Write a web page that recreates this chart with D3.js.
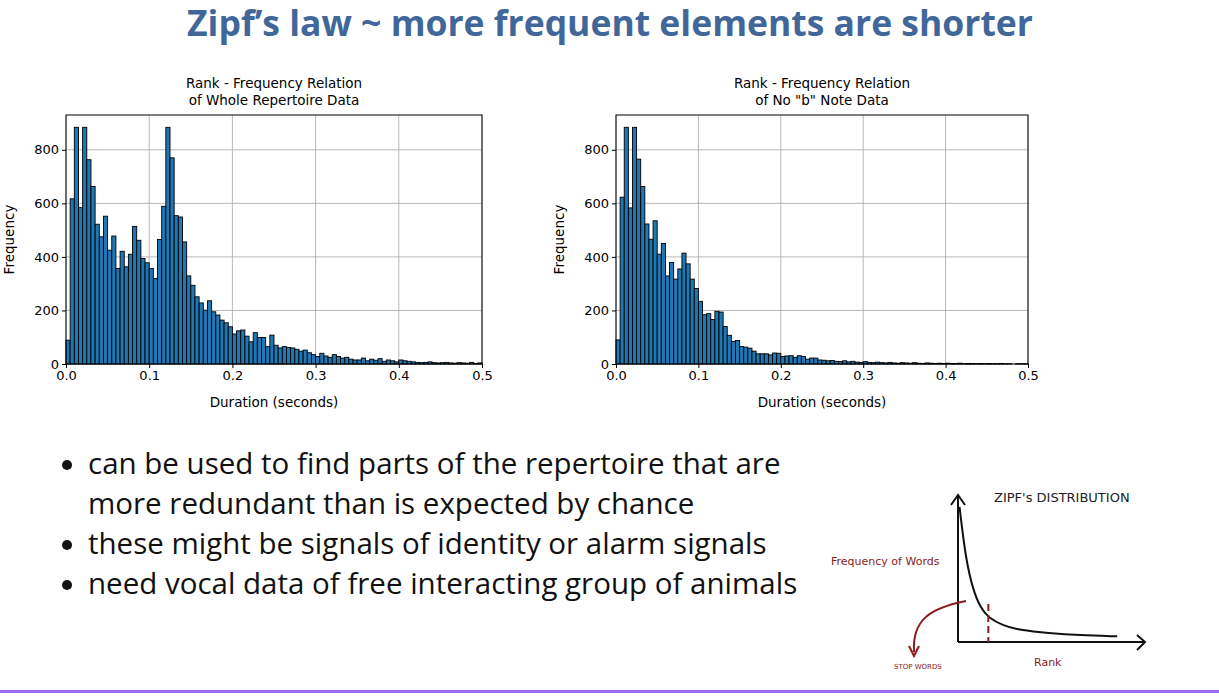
<!DOCTYPE html>
<html><head><meta charset="utf-8">
<script src="https://cdn.jsdelivr.net/npm/d3@7"></script>
<style>
body{margin:0;background:#fff;font-family:"DejaVu Sans",sans-serif;}
svg text{font-family:"DejaVu Sans",sans-serif;}
</style></head>
<body><svg id="vis" width="1219" height="698"></svg>
<script>
// histogram counts, 100 bins of 0.005 s from 0 to 0.5
var wholeCounts = [89,617,884,584,884,763,663,522,475,552,425,478,357,421,363,410,514,462,394,378,
  357,319,465,589,884,770,554,549,456,329,294,251,228,201,236,195,183,164,154,139,
  112,124,127,104,83,117,99,99,65,108,
  70,60,65,62,60,55,48,52,42,35,28,40,30,25,35,28,22,25,18,15,
  15,22,12,18,14,20,10,15,12,8,15,12,10,8,6,5,6,8,5,4,5,6,4,3,5,4,3,6,2,4];
var noBCounts = [90,623,884,583,884,765,663,523,466,535,410,450,329,379,317,355,414,374,317,282,
  234,184,188,166,197,194,140,107,84,88,65,63,59,48,38,38,38,34,41,40,
  28,30,31,25,31,28,18,22,22,15,
  14,12,13,10,9,12,8,10,7,6,9,6,5,7,5,4,6,4,3,5,4,3,5,3,2,4,3,2,3,2,3,2,2,3,1,2,2,1,2,1,2,1,1,2,1,1,0,1,1,1];
var xTicks = [0.0, 0.1, 0.2, 0.3, 0.4, 0.5];
var yTicks = [0, 200, 400, 600, 800];
var bullets = [
  ["can be used to find parts of the repertoire that are", "more redundant than is expected by chance"],
  ["these might be signals of identity or alarm signals"],
  ["need vocal data of free interacting group of animals"]
];
// sketch curve (rank, frequency) in sketch units
var zipfCurve = [[0.1,10],[0.5,6.2],[1,3.8],[1.5,2.5],[2,1.8],[3,1.2],[4,0.9],[6,0.65],[8,0.5],[10.5,0.42]];

var svg = d3.select("#vis");
svg.append("text").attr("x", 610).attr("y", 36).attr("text-anchor", "middle")
  .attr("font-size", 35.5).attr("font-weight", "bold").attr("fill", "#41679a")
  .style("font-family", "'Open Sans',sans-serif")
  .text("Zipf\u2019s law ~ more frequent elements are shorter");

function hist(left, right, counts, t1, t2){
  var top = 115, bottom = 364;
  var x = d3.scaleLinear().domain([0, 0.5]).range([left, right]);
  var y = d3.scaleLinear().domain([0, 930]).range([bottom, top]);
  var g = svg.append("g");
  g.selectAll(".gx").data(xTicks).join("line").attr("x1", d => x(d)).attr("x2", d => x(d))
    .attr("y1", top).attr("y2", bottom).attr("stroke", "#b0b0b0").attr("stroke-width", 0.9);
  g.selectAll(".gy").data(yTicks).join("line").attr("x1", left).attr("x2", right)
    .attr("y1", d => y(d)).attr("y2", d => y(d)).attr("stroke", "#b0b0b0").attr("stroke-width", 0.9);
  var bw = 0.005;
  g.selectAll(".bar").data(counts).join("rect")
    .attr("x", (d, i) => x(i * bw)).attr("width", x(bw) - x(0))
    .attr("y", d => y(d)).attr("height", d => bottom - y(d))
    .attr("fill", "#1f77b4").attr("stroke", "#000").attr("stroke-width", 0.9);
  g.append("rect").attr("x", left).attr("y", top).attr("width", right - left).attr("height", bottom - top)
    .attr("fill", "none").attr("stroke", "#000").attr("stroke-width", 1);
  g.append("g").attr("transform", "translate(0," + bottom + ")")
    .call(d3.axisBottom(x).tickValues(xTicks).tickFormat(d3.format(".1f")).tickSize(4))
    .call(a => a.select(".domain").remove())
    .selectAll("text").attr("font-size", 13).attr("fill", "#000");
  g.append("g").attr("transform", "translate(" + left + ",0)")
    .call(d3.axisLeft(y).tickValues(yTicks).tickSize(4))
    .call(a => a.select(".domain").remove())
    .selectAll("text").attr("font-size", 13).attr("fill", "#000");
  g.append("text").attr("x", (left + right) / 2).attr("y", 407).attr("text-anchor", "middle")
    .attr("font-size", 13.5).text("Duration (seconds)");
  g.append("text").attr("transform", "translate(" + (left - 52) + "," + ((top + bottom) / 2) + ") rotate(-90)")
    .attr("text-anchor", "middle").attr("font-size", 13.5).text("Frequency");
  g.append("text").attr("x", (left + right) / 2).attr("y", 88).attr("text-anchor", "middle")
    .attr("font-size", 13.5).text(t1);
  g.append("text").attr("x", (left + right) / 2).attr("y", 105).attr("text-anchor", "middle")
    .attr("font-size", 13.5).text(t2);
}
hist(66, 482, wholeCounts, "Rank - Frequency Relation", "of Whole Repertoire Data");
hist(616, 1028, noBCounts, "Rank - Frequency Relation", "of No \"b\" Note Data");

// bullets
var by = 474;
bullets.forEach(function(lines){
  svg.append("circle").attr("cx", 67).attr("cy", by - 9).attr("r", 5).attr("fill", "#111");
  lines.forEach(function(l){
    svg.append("text").attr("x", 88).attr("y", by).attr("font-size", 29.5).attr("fill", "#111")
      .style("font-family", "'Open Sans',sans-serif").text(l);
    by += 40;
  });
});

// Zipf sketch
var sk = svg.append("g");
var sx = d3.scaleLinear().domain([0, 12]).range([958, 1140]);
var sy = d3.scaleLinear().domain([0, 10.5]).range([642, 500]);
sk.append("path").attr("d", "M958,642 V495 M951,505 L958,495 L965,505 M958,642 H1145 M1137,635 L1145,642 L1137,650")
  .attr("fill", "none").attr("stroke", "#111").attr("stroke-width", 2);
sk.append("path").attr("d", d3.line().x(d => sx(d[0])).y(d => sy(d[1])).curve(d3.curveBasis)(zipfCurve))
  .attr("fill", "none").attr("stroke", "#111").attr("stroke-width", 2);
sk.append("line").attr("x1", sx(2)).attr("x2", sx(2)).attr("y1", 604).attr("y2", 642)
  .attr("stroke", "#8b1a1a").attr("stroke-width", 2).attr("stroke-dasharray", "7,4");
sk.append("path").attr("d", "M966,601 C930,608 912,620 914,652 M909,646 L914,656 L919,646")
  .attr("fill", "none").attr("stroke", "#8b1a1a").attr("stroke-width", 2);
sk.append("text").attr("x", 994).attr("y", 502).attr("font-size", 13).attr("fill", "#222").text("ZIPF's DISTRIBUTION");
sk.append("text").attr("x", 831).attr("y", 565).attr("font-size", 11).attr("fill", "#8b1a1a").text("Frequency of Words");
sk.append("text").attr("x", 894).attr("y", 669).attr("font-size", 7).attr("fill", "#8b1a1a").text("STOP WORDS");
sk.append("text").attr("x", 1034).attr("y", 666).attr("font-size", 11).attr("fill", "#8b1a1a").text("Rank");

svg.append("rect").attr("x", 0).attr("y", 690).attr("width", 1219).attr("height", 3).attr("fill", "#9b6cf0");
</script></body></html>
